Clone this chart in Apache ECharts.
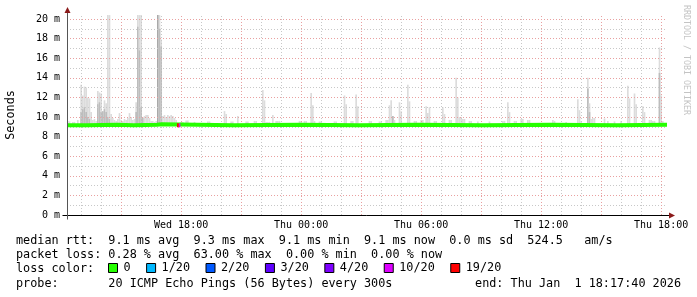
<!DOCTYPE html>
<html><head><meta charset="utf-8">
<script src="https://cdn.jsdelivr.net/npm/echarts@6/dist/echarts.min.js"></script>
<style>html,body{margin:0;padding:0;background:#fff}#c{width:697px;height:297px}</style>
</head><body><div id="c"></div>
<script>
// ---- time frame (hours since Wed 00:00) ----
const START_HOUR = 12 + 17/60 + 40/3600;   // Wed 12:17:40
const SPAN_HOURS = 30;
const STEP_HOURS = 5/60;                   // one 300 s step
const Y_MAX = 20.41;
const SMOKE_BASE = 9.1;

// ---- axis / grid values ----
const yLabelValues = [0,2,4,6,8,10,12,14,16,18,20];
const yMajorGrid = [2,4,6,8,10,12,14,16,18,20];
const yMinorGrid = [1,3,5,7,9,11,13,15,17,19];
const xLabelHours = [18,24,30,36,42];
const xMajorGridHours = [15,18,21,24,27,30,33,36,39,42];
const xMinorGridHours = [13,14,16,17,19,20,22,23,25,26,28,29,31,32,34,35,37,38,40,41];

// ---- smoke (step index, max rtt ms, darker band top ms; 0 = none) ----
const smokeStep = [0,1,3,4,6,8,9,10,11,12,13,14,15,16,17,18,19,20,21,22,23,24,25,26,27,28,29,30,31,32,33,34,35,36,37,38,39,40,
  41,42,43,44,45,46,47,48,49,50,51,52,53,54,55,56,57,58,59,60,61,62,63,64,65,68,69,71,72,76,84,85,94,95,98,99,102,107,108,112,113,117,118,
  119,120,121,123,125,126,127,139,140,142,143,146,147,148,151,152,160,161,166,167,170,171,173,174,181,182,187,188,191,192,193,194,195,196,
  199,200,204,205,208,209,212,213,215,216,217,220,221,225,226,229,230,233,234,235,236,237,238,
  241,242,246,253,261,262,264,265,268,269,272,273,276,277,291,292,299,306,307,308,312,313,314,315,316,322,324,328,332,336,337,340,341,345,346,349,350,351,352,355,356,357];
const smokeTop = [9.6,9.55,9.5,9.5,9.7,13.3,12.2,13.1,13.0,12.0,11.9,10.5,9.7,9.8,9.6,12.65,12.5,12.4,10.6,11.7,11.4,20.4,20.4,10.3,9.9,9.7,9.6,9.8,10.4,9.7,9.6,9.8,9.7,9.9,10.4,10.0,9.7,9.8,
  11.5,20.4,20.4,20.4,10.0,10.1,10.2,10.2,9.9,9.6,9.6,9.5,9.6,20.4,20.4,17.9,10.1,10.2,10.0,10.2,10.1,10.2,10.1,9.9,9.7,9.5,9.5,9.65,9.65,9.5,9.55,9.55,10.6,10.3,9.55,9.55,10.1,9.55,9.55,9.6,9.6,12.75,11.7,
  9.5,9.5,9.5,10.2,9.6,9.6,9.6,9.6,9.6,9.6,9.6,12.45,11.2,9.6,9.55,9.55,9.55,9.55,12.2,11.3,9.6,9.6,12.3,11.1,9.6,9.6,9.55,9.55,9.7,9.7,11.2,11.7,10.1,9.7,
  11.5,10.6,13.3,11.6,9.6,9.6,9.7,9.7,11.1,10.4,11.0,9.6,9.6,11.0,10.3,9.7,9.7,14.0,12.0,10.0,10.0,9.8,9.8,
  9.6,9.6,9.55,9.55,9.6,9.6,11.5,10.5,9.6,9.6,9.8,9.8,9.7,9.7,9.7,9.6,9.5,11.8,10.7,9.6,14.0,11.4,9.8,9.9,9.9,9.85,9.6,9.55,9.6,13.2,11.9,12.4,11.3,11.1,10.5,9.7,9.7,9.6,9.6,17.1,12.2,9.6];
const smokeMid = [0,0,0,0,0,10.5,10.8,11.0,10.5,10.0,9.8,0,0,0,0,11.3,11.5,10.5,10.6,10.8,10.5,10.0,9.8,0,0,0,0,0,0,0,0,0,0,0,0,0,0,0,
  10.5,19.2,16.8,11.0,9.9,0,0,0,0,0,0,0,0,20.4,19.0,17.2,0,0,0,0,0,0,0,0,0,0,0,0,0,0,0,0,0,0,0,0,0,0,0,0,0,0,0,
  0,0,0,0,0,0,0,0,0,0,0,0,0,0,0,0,0,0,0,0,0,0,0,0,0,0,0,0,0,0,0,0,10.1,0,
  0,0,0,0,0,0,0,0,0,0,0,0,0,0,0,0,0,0,0,0,0,0,0,
  0,0,0,0,0,0,0,0,0,0,0,0,0,0,0,0,0,0,0,0,12.9,10.5,0,0,0,0,0,0,0,0,0,0,0,0,0,0,0,0,0,14.5,0,0];

// ---- median rtt (change points: step index, ms) ----
const medianStep = [0,12,30,40,54,57,100,140,175,210,250,290,330,360];
const medianValue = [9.15,9.2,9.15,9.2,9.25,9.15,9.2,9.15,9.2,9.15,9.2,9.15,9.2,9.2];

// ---- loss colours ----
const lossNames = ['0','1/20','2/20','3/20','4/20','10/20','19/20'];
const lossColors = ['#26ff00','#00b8ff','#0059ff','#5e00ff','#7e00ff','#dd00ff','#ff0000'];
const lossStep = [66, 67];
const lossLevel = ['19/20', '10/20'];
const lossMedian = [9.15, 9.15];

// ---- legend text ----
const statLines = [
  'median rtt:  9.1 ms avg  9.3 ms max  9.1 ms min  9.1 ms now  0.0 ms sd  524.5   am/s',
  'packet loss: 0.28 % avg  63.00 % max  0.00 % min  0.00 % now',
  'loss color:',
  'probe:       20 ICMP Echo Pings (56 Bytes) every 300s'
];
const endText = 'end: Thu Jan  1 18:17:40 2026';
const watermark = 'RRDTOOL / TOBI OETIKER';

const MONO = "'DejaVu Sans Mono', monospace";
const stepToHour = s => START_HOUR + s * STEP_HOURS;
const pad2 = n => (n < 10 ? '0' : '') + n;

const smokeData = smokeStep.map((s, i) => [stepToHour(s), smokeTop[i], smokeMid[i]]);
const medianData = medianStep.map((s, i) => [stepToHour(s), medianValue[i]]);

const chart = echarts.init(document.getElementById('c'), null, {renderer: 'canvas'});

const gridLine = (vals, key, color) => vals.map(v => ({[key]: v, lineStyle: {color: color, type: [1, 2], width: 1}}));

const series = [
  {
    name: 'smoke', type: 'custom', z: 1, silent: true, clip: true,
    data: smokeData,
    renderItem: function (params, api) {
      const t0 = api.value(0), top = api.value(1), mid = api.value(2);
      const p0 = api.coord([t0, SMOKE_BASE]);
      const p1 = api.coord([t0 + STEP_HOURS, top]);
      const children = [{type: 'rect', shape: {x: p0[0], y: p1[1], width: p1[0] - p0[0], height: p0[1] - p1[1]}, style: {fill: '#dcdcdc'}}];
      if (mid > 0) {
        const pm = api.coord([t0 + STEP_HOURS, mid]);
        children.push({type: 'rect', shape: {x: p0[0], y: pm[1], width: p1[0] - p0[0], height: p0[1] - pm[1]},
          style: {fill: mid >= 20 ? '#a9a9a9' : '#bdbdbd'}});
      }
      return {type: 'group', children: children};
    }
  },
  {
    name: 'grid', type: 'line', z: 2, data: [], silent: true,
    markLine: {
      silent: true, symbol: ['none', 'none'], label: {show: false}, animation: false,
      data: [].concat(
        gridLine(xMinorGridHours, 'xAxis', '#c8c8c8'),
        gridLine(yMinorGrid, 'yAxis', '#c8c8c8'),
        gridLine(xMajorGridHours, 'xAxis', '#e9a0a0'),
        gridLine(yMajorGrid, 'yAxis', '#e9a0a0')
      )
    }
  }
];
lossNames.forEach((name, k) => {
  let data = [];
  if (name === '0') data = medianData;
  lossStep.forEach((s, i) => {
    if (lossLevel[i] === name) data = data.concat([[stepToHour(s), lossMedian[i]], [stepToHour(s + 1), lossMedian[i]], null]);
  });
  series.push({
    name: name, type: 'line', z: name === '0' ? 5 : 6, step: name === '0' ? 'end' : false,
    data: data, showSymbol: false, symbol: 'none', connectNulls: false,
    color: lossColors[k], lineStyle: {width: 4, color: lossColors[k]}, silent: true
  });
});

chart.setOption({
  animation: false,
  backgroundColor: '#ffffff',
  grid: {left: 67, top: 15, width: 600, height: 200, containLabel: false, outerBoundsMode: 'none'},
  xAxis: {
    type: 'value', min: START_HOUR, max: START_HOUR + SPAN_HOURS,
    splitLine: {show: false}, axisTick: {show: false},
    axisLine: {show: false},
    axisLabel: {
      customValues: xLabelHours, margin: 5, color: '#000', fontFamily: MONO, fontSize: 10,
      formatter: v => (v < 24 ? 'Wed ' + pad2(v) : 'Thu ' + pad2(v - 24)) + ':00'
    }
  },
  yAxis: {
    type: 'value', min: 0, max: Y_MAX, interval: 2,
    splitLine: {show: false}, axisTick: {show: false},
    axisLine: {show: false},
    axisLabel: {customValues: yLabelValues, margin: 7, color: '#000', fontFamily: MONO, fontSize: 10,
      formatter: v => (Math.abs(v % 2) < 1e-9 && v <= 20 ? v + ' m' : '')},
    name: 'Seconds', nameLocation: 'middle', nameGap: 50, nameRotate: 90,
    nameTextStyle: {fontFamily: MONO, fontSize: 11.8, color: '#000'}
  },
  legend: {
    data: lossNames, left: 108, top: 262, padding: 0, itemWidth: 9, itemHeight: 9, itemGap: 15.5,
    icon: 'rect', selectedMode: false,
    itemStyle: {borderColor: '#000', borderWidth: 1},
    textStyle: {fontFamily: MONO, fontSize: 11.8, color: '#000', padding: [0, 0, 0, 1]}
  },
  series: series
});

// decorations placed through the chart's own scales
const tl = chart.convertToPixel({gridIndex: 0}, [START_HOUR, Y_MAX]);
const br = chart.convertToPixel({gridIndex: 0}, [START_HOUR + SPAN_HOURS, 0]);
const arrowColor = '#8b1a1a';
const ax = Math.round(tl[0]) + 0.5, ay = Math.round(br[1]) + 0.5;
const graphics = [
  {type: 'line', shape: {x1: ax - 5, y1: ay, x2: br[0] + 3, y2: ay}, style: {stroke: '#000', lineWidth: 1}, z: 10},
  {type: 'line', shape: {x1: ax, y1: ay + 4, x2: ax, y2: tl[1] - 3}, style: {stroke: '#555', lineWidth: 1}, z: 10},
  {type: 'polygon', shape: {points: [[ax, tl[1] - 8], [ax - 3, tl[1] - 2], [ax + 3, tl[1] - 2]]}, style: {fill: arrowColor}, z: 11},
  {type: 'polygon', shape: {points: [[br[0] + 8, ay], [br[0] + 2, ay - 3], [br[0] + 2, ay + 3]]}, style: {fill: arrowColor}, z: 11},
  {type: 'text', x: 686, y: 5, rotation: -Math.PI / 2,
    style: {text: watermark, fill: '#c4c4c4', font: "8.3px 'DejaVu Sans Mono', monospace", textAlign: 'left', textVerticalAlign: 'middle'}}
];
const lineY = [241, 255, 269, 284];
statLines.forEach((t, i) => graphics.push({type: 'text', x: 16, y: lineY[i],
  style: {text: t, fill: '#000', font: "11.8px 'DejaVu Sans Mono', monospace", textAlign: 'left', textVerticalAlign: 'middle'}}));
graphics.push({type: 'text', x: 681, y: lineY[3],
  style: {text: endText, fill: '#000', font: "11.8px 'DejaVu Sans Mono', monospace", textAlign: 'right', textVerticalAlign: 'middle'}});
chart.setOption({graphic: graphics});
</script>
</body></html>
